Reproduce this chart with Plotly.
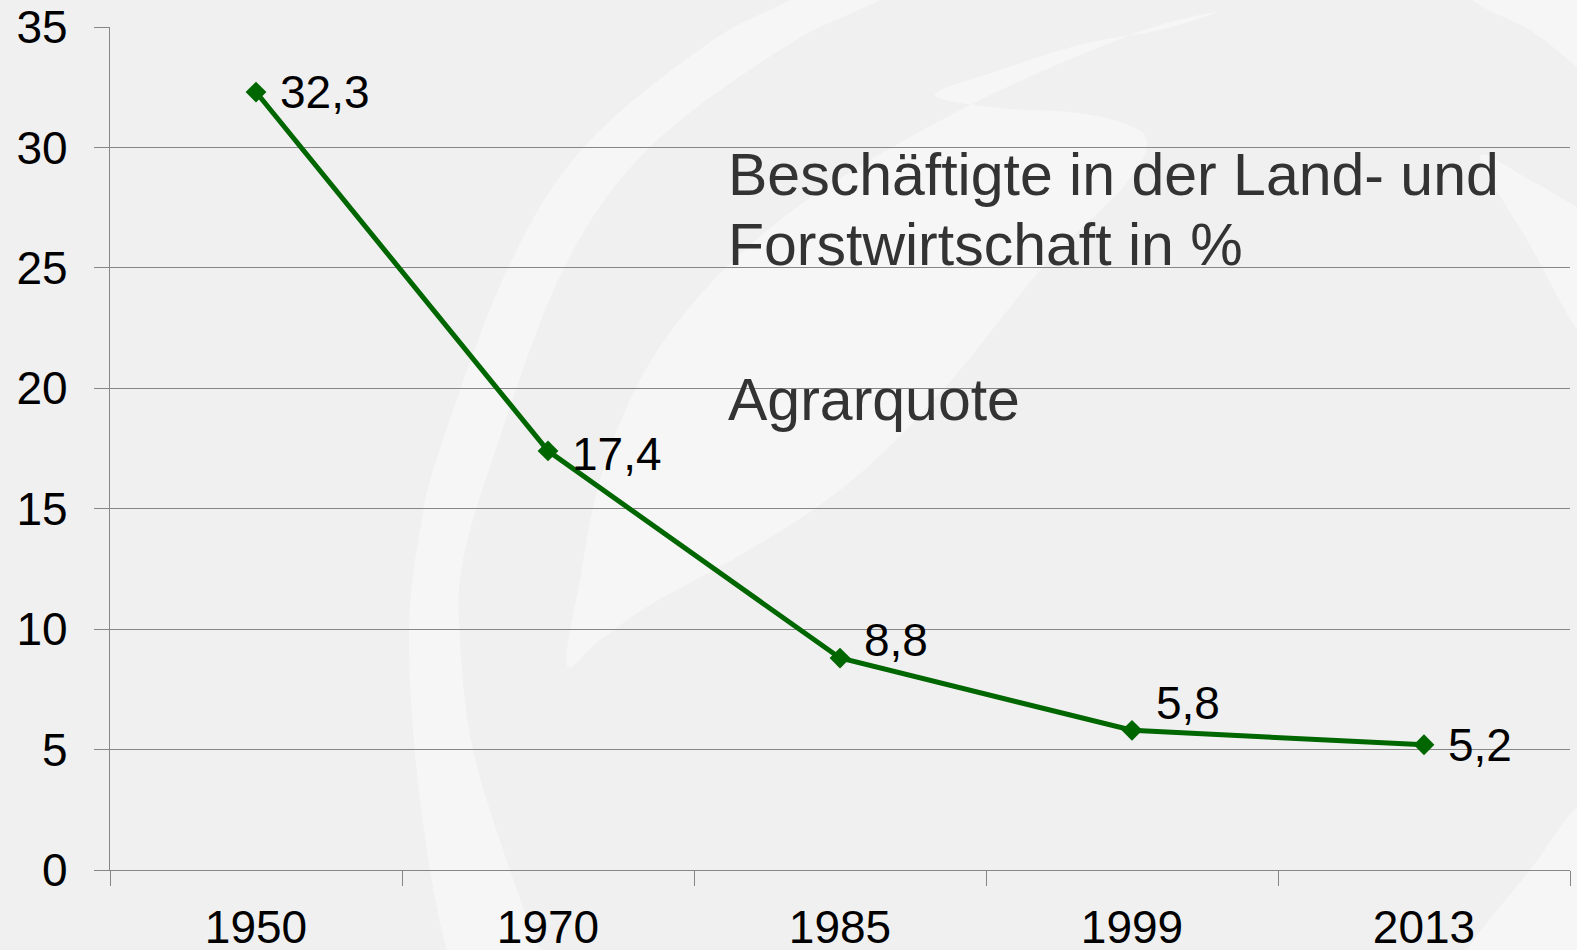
import plotly.graph_objects as go

# ---- data ----
years = ["1950", "1970", "1985", "1999", "2013"]
quota = [32.3, 17.4, 8.8, 5.8, 5.2]
label_text = [f"{v:.1f}".replace(".", ",") for v in quota]
label_dy = [0, -3, 18, 27, 0]          # vertical offsets of the value labels (px)
title_lines = ["Beschäftigte in der Land- und", "Forstwirtschaft in %"]
subtitle = "Agrarquote"

# ---- geometry helpers (figure pixels -> paper units) ----
W, H = 1577, 950
ML, MR, MT, MB = 110, 7, 27, 80
PW, PH = W - ML - MR, H - MT - MB


def P(x, y):
    return ((x - ML) / PW, (H - MB - y) / PH)


def smooth_closed(pts):
    n = len(pts)
    q = [P(*p) for p in pts]
    d = f"M {q[0][0]:.5f},{q[0][1]:.5f}"
    for i in range(n):
        p0, p1, p2, p3 = q[i - 1], q[i], q[(i + 1) % n], q[(i + 2) % n]
        c1 = (p1[0] + (p2[0] - p0[0]) / 6, p1[1] + (p2[1] - p0[1]) / 6)
        c2 = (p2[0] - (p3[0] - p1[0]) / 6, p2[1] - (p3[1] - p1[1]) / 6)
        d += f" C {c1[0]:.5f},{c1[1]:.5f} {c2[0]:.5f},{c2[1]:.5f} {p2[0]:.5f},{p2[1]:.5f}"
    return d + " Z"


LIGHT = "#f6f6f6"
bg_shapes_pts = [
    # big left band
    [(480, 1000), (447, 950), (420, 800), (409, 640), (420, 530), (441, 446), (508, 268),
     (584, 147), (706, 45), (790, 0), (900, -60), (990, -60), (880, 0), (788, 45), (650, 147),
     (564, 268), (497, 446), (463, 560), (460, 640), (473, 750), (510, 870), (540, 950), (570, 1000)],
    # inner crescent
    [(567, 665), (580, 580), (600, 480), (640, 380), (700, 295), (780, 220), (870, 160),
     (980, 100), (1080, 55), (1160, 25), (1217, 12), (1160, 30), (1083, 44), (1000, 70),
     (935, 95), (1000, 108), (1070, 112), (1123, 123), (1147, 142), (1125, 185), (1043, 267),
     (960, 370), (890, 446), (820, 505), (737, 557), (650, 605), (600, 640)],
    # top right corner
    [(1473, 0), (1530, 30), (1577, 67), (1640, 120), (1640, -40), (1450, -40)],
    # right streak
    [(1480, 157), (1530, 180), (1577, 207), (1640, 240), (1640, 420), (1577, 330), (1530, 245)],
    # bottom right
    [(1577, 807), (1530, 870), (1467, 950), (1440, 1010), (1640, 1010), (1640, 760)],
]

shapes = [dict(type="path", xref="paper", yref="paper", path=smooth_closed(p),
               fillcolor=LIGHT, line=dict(width=0), layer="below") for p in bg_shapes_pts]

FONT = "Liberation Sans, Arial, sans-serif"
GRID = "#868686"
GREEN = "#006600"

fig = go.Figure()
fig.add_trace(go.Scatter(
    x=years, y=quota, mode="lines+markers",
    line=dict(color=GREEN, width=5),
    marker=dict(symbol="diamond", size=16, color=GREEN),
    hoverinfo="skip", showlegend=False,
))

annotations = []
for i, (v, t, dy) in enumerate(zip(quota, label_text, label_dy)):
    annotations.append(dict(x=i, y=v, xref="x", yref="y", text=t, showarrow=False,
                            xanchor="left", yanchor="middle", xshift=22, yshift=dy,
                            font=dict(family=FONT, size=46, color="black")))

tx, _ = P(726, 0)
for txt, yc in zip(title_lines + [subtitle], [175, 245, 400]):
    annotations.append(dict(x=tx, y=P(0, yc)[1], xref="paper", yref="paper", text=txt,
                            showarrow=False, xanchor="left", yanchor="middle",
                            font=dict(family=FONT, size=59, color="#333333")))

fig.update_layout(
    width=W, height=H,
    margin=dict(l=ML, r=MR, t=MT, b=MB, pad=0, autoexpand=False),
    paper_bgcolor="#f0f0f0",
    plot_bgcolor="rgba(0,0,0,0)",
    shapes=shapes,
    annotations=annotations,
    xaxis=dict(type="category", range=[-0.5, 4.5], tickson="boundaries",
               ticks="outside", ticklen=15, tickwidth=1.4, tickcolor=GRID,
               showgrid=False, showline=True, linecolor=GRID, linewidth=1.4,
               zeroline=False, fixedrange=True, automargin=False,
               ticklabelstandoff=17,
               tickfont=dict(family=FONT, size=46, color="black")),
    yaxis=dict(range=[0, 35], tick0=0, dtick=5, ticks="outside", ticklen=15,
               tickwidth=1.4, tickcolor=GRID, showgrid=True, gridcolor=GRID,
               gridwidth=1.4, showline=True, linecolor=GRID, linewidth=1.4,
               zeroline=False, fixedrange=True, automargin=False,
               ticklabelstandoff=17,
               tickfont=dict(family=FONT, size=46, color="black")),
)

fig.write_html("out.html", config={"displayModeBar": False},
               post_script="document.body.style.margin='0';document.body.style.overflow='hidden';")
